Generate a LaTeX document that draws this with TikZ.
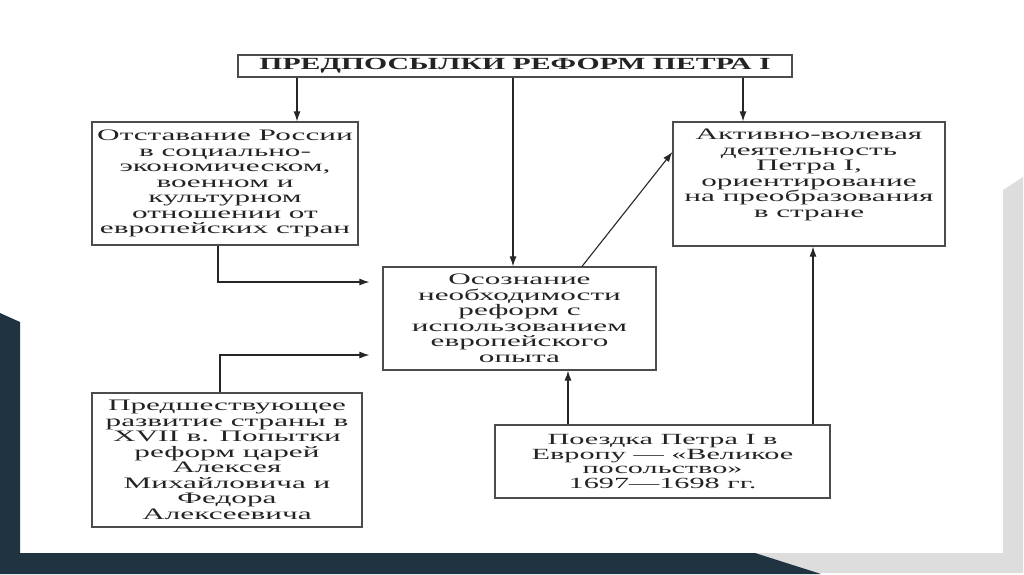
\documentclass[tikz,border=0pt]{standalone}
\usepackage{fontspec}
\setmainfont{Liberation Serif}
\newfontfamily\boxfont[FakeStretch=1.95]{Liberation Serif}
\newfontfamily\titlefont[FakeStretch=1.75]{Liberation Serif}
\usetikzlibrary{arrows.meta}
\definecolor{slate}{RGB}{31,52,64}
\definecolor{sidegray}{RGB}{221,221,221}
\definecolor{ink}{RGB}{35,35,35}

\begin{document}
\begin{tikzpicture}[x=1pt,y=-1pt,
every node/.style={text=ink},
box/.style={draw=black!70,line width=1.2pt,inner sep=0pt,align=center,
	font=\boxfont\fontsize{16}{15.5}\selectfont},
arr/.style={draw=black!85,line width=1.1pt,-{Latex[length=10pt,width=7pt]}}]
\useasboundingbox (0,0) rectangle (1024,574);
%slide frame
\fill[sidegray] (1003,190) -- (1023,177) -- (1023,573) -- (780,573) -- (755,553) -- (1003,553) -- cycle;
\fill[slate] (0,313) -- (20,322) -- (20,553) -- (755,553) -- (821,574) -- (0,574) -- cycle;

%boxes
\node[box,minimum width=554,minimum height=22,font=\titlefont\bfseries\fontsize{17}{17}\selectfont](pre) at (515,66) {ПРЕДПОСЫЛКИ РЕФОРМ ПЕТРА I};
\node[box,minimum width=266,minimum height=123](lag) at (225,183.5) {Отставание России\\в социально-\\экономическом,\\военном и\\культурном\\отношении от\\европейских стран};
\node[box,minimum width=273,minimum height=103](real) at (519.5,318.5) {Осознание\\необходимости\\реформ с\\использованием\\европейского\\опыта};
%text sits high in this one
\node[box,minimum width=272,minimum height=124](act) at (809,184) {\parbox[c][110pt][t]{268pt}{\centering Активно-волевая\\деятельность\\Петра I,\\ориентирование\\на преобразования\\в стране}};
\node[box,minimum width=270,minimum height=134](prev) at (227,460) {Предшествующее\\развитие страны в\\XVII в. Попытки\\реформ царей\\Алексея\\Михайловича и\\Федора\\Алексеевича};
\node[box,minimum width=335,minimum height=73,font=\boxfont\fontsize{15.5}{14.5}\selectfont](trip) at (662.5,461.5) {Поездка Петра I в\\Европу — «Великое\\посольство»\\1697—1698 гг.};

%arrows from the title
\foreach \x/\t in {297/lag,513/real,743/act}
	\draw[arr] (\x,0 |- pre.south) -- (\x,0 |- \t.north);
%side causes
\draw[arr,shorten >=13pt] (218,0 |- lag.south) |- ([yshift=36.5pt]real.west);
\draw[arr,shorten >=13pt] (220,0 |- prev.north) |- ([yshift=-36.5pt]real.west);
\draw[arr] (582,0 |- real.north) -- ([yshift=32pt]act.west);
%the embassy
\draw[arr] (568,0 |- trip.north) -- (568,0 |- real.south);
\draw[arr] (813,0 |- trip.north) -- (813,0 |- act.south);
\end{tikzpicture}
\end{document}
